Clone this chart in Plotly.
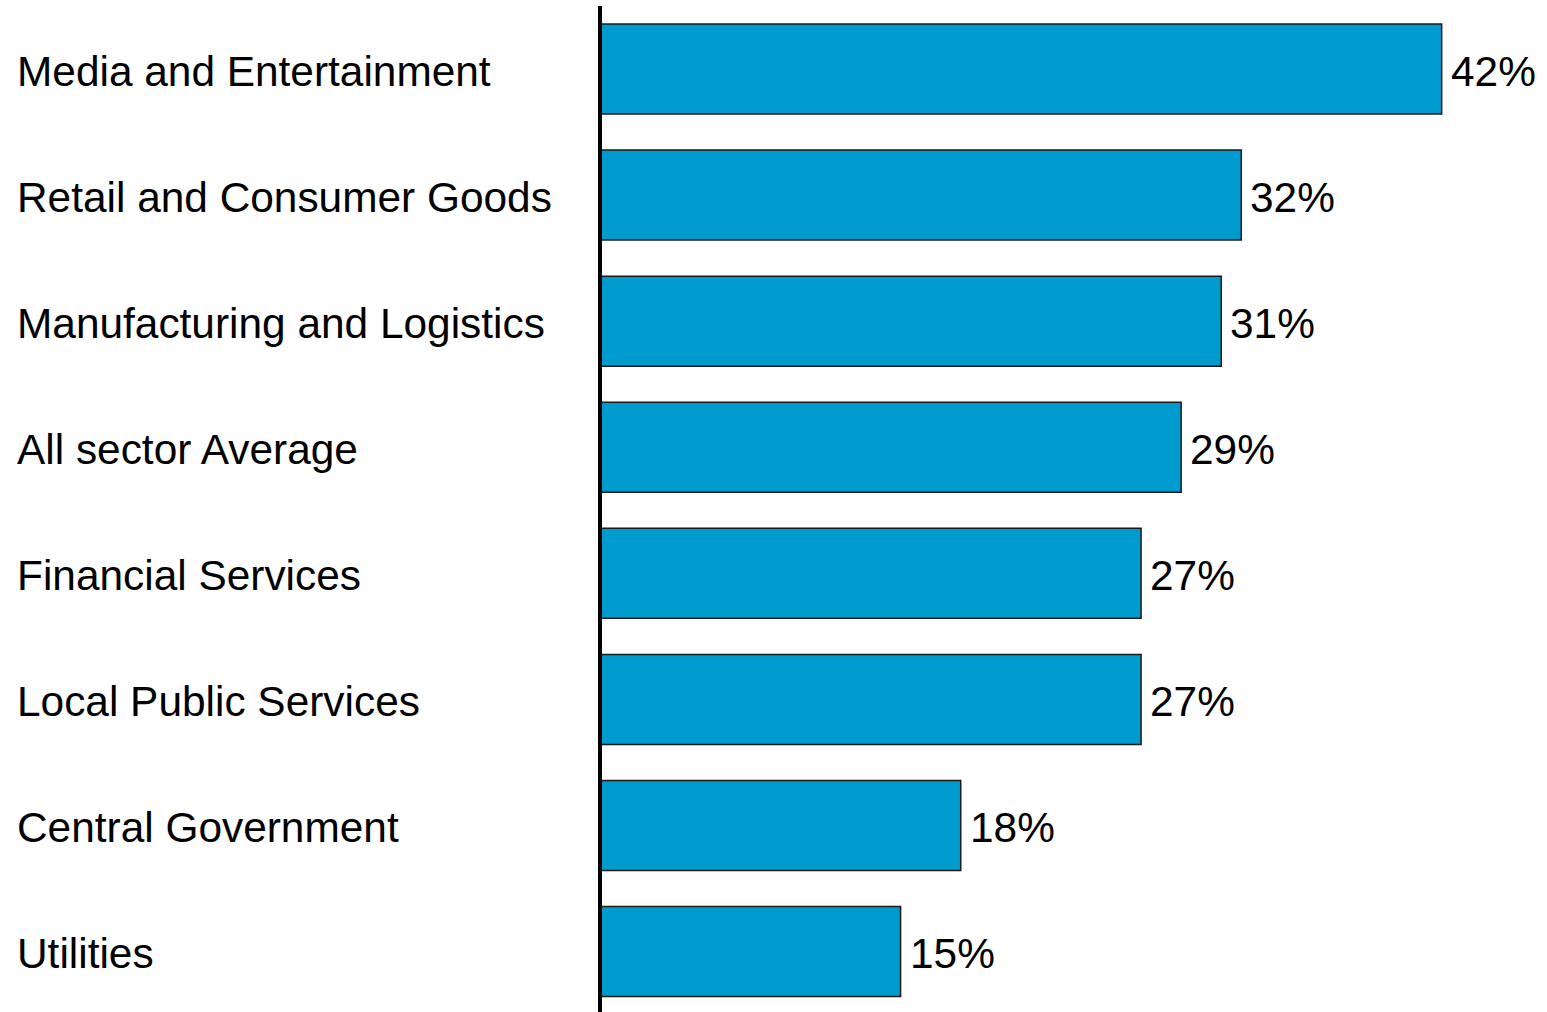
import plotly.graph_objects as go

# Sector shares, listed top to bottom
sectors = [
    "Media and Entertainment",
    "Retail and Consumer Goods",
    "Manufacturing and Logistics",
    "All sector Average",
    "Financial Services",
    "Local Public Services",
    "Central Government",
    "Utilities",
]
shares = [42, 32, 31, 29, 27, 27, 18, 15]
share_labels = ["42%", "32%", "31%", "29%", "27%", "27%", "18%", "15%"]

W, H = 1547, 1012
LEFT, TOP, BOTTOM, RIGHT = 600, 6, 0, 0
plot_w = W - LEFT - RIGHT
plot_h = H - TOP - BOTTOM
x_max = plot_w / 20.04
row_px = 126.07
y_top = len(sectors) - 0.5
y_bottom = y_top - plot_h / row_px

FONT = "Liberation Sans, Arial, sans-serif"
FONT_SIZE = 42.4

fig = go.Figure(
    go.Bar(
        x=shares,
        y=sectors,
        orientation="h",
        width=0.714,
        marker=dict(color="#009BCE", line=dict(color="#1a1a1a", width=1.5)),
        hoverinfo="skip",
    )
)

annotations = []
# Category names, left aligned in the left margin
for name in sectors:
    annotations.append(
        dict(
            x=-(LEFT - 15) / plot_w,
            xref="paper",
            y=name,
            yref="y",
            text=name,
            showarrow=False,
            xanchor="left",
            yanchor="middle",
            yshift=-2,
            font=dict(family=FONT, size=FONT_SIZE, color="#000000"),
        )
    )
# Value labels just past the end of each bar
for name, val, lab in zip(sectors, shares, share_labels):
    annotations.append(
        dict(
            x=val,
            xref="x",
            y=name,
            yref="y",
            text=lab,
            showarrow=False,
            xanchor="left",
            yanchor="middle",
            xshift=7,
            yshift=-2,
            font=dict(family=FONT, size=FONT_SIZE, color="#000000"),
        )
    )

fig.update_layout(
    width=W,
    height=H,
    margin=dict(l=LEFT, r=RIGHT, t=TOP, b=BOTTOM, pad=0),
    paper_bgcolor="white",
    plot_bgcolor="white",
    showlegend=False,
    xaxis=dict(
        range=[0, x_max],
        showgrid=False,
        zeroline=False,
        showticklabels=False,
        ticks="",
        showline=False,
        fixedrange=True,
    ),
    yaxis=dict(
        categoryorder="array",
        categoryarray=sectors[::-1],
        range=[y_bottom, y_top],
        showgrid=False,
        zeroline=False,
        showticklabels=False,
        ticks="",
        fixedrange=True,
    ),
    annotations=annotations,
    shapes=[
        # vertical baseline at zero (paper refs so the thick stroke isn't clipped)
        dict(
            type="line",
            xref="paper",
            yref="paper",
            x0=0,
            x1=0,
            y0=-0.01,
            y1=1.0,
            line=dict(color="#000000", width=4),
            layer="above",
        )
    ],
)

fig.write_html("out.html", config={"displayModeBar": False})
